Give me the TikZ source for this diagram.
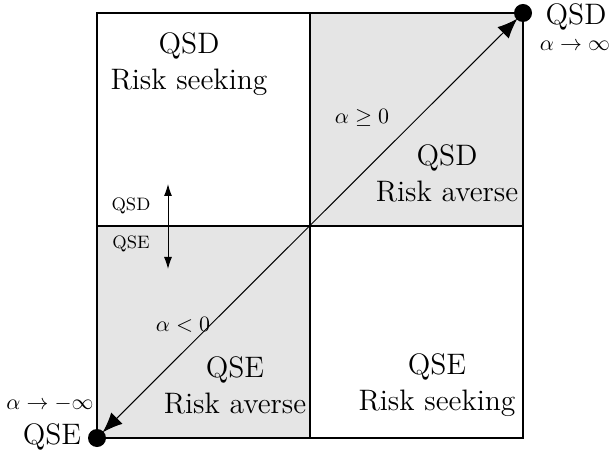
\documentclass[tikz,border=0pt]{standalone}
\usetikzlibrary{arrows.meta}
\begin{document}
\begin{tikzpicture}[x=0.5pt,y=-0.5pt,
  big/.style={font=\fontsize{14.8}{16}\selectfont, inner sep=0pt},
  mid/.style={font=\fontsize{10.5}{12}\selectfont, inner sep=0pt},
  sml/.style={font=\fontsize{9}{10}\selectfont, inner sep=0pt},
  border/.style={line width=1pt}]
\useasboundingbox (0,0) rectangle (613,458);
\coordinate (BL) at (97,438);
\coordinate (TR) at (523,13);
\coordinate (C) at (310,226);
\fill[gray!20] (C) rectangle (TR);
\fill[gray!20] (BL) rectangle (C);
\draw[border] (BL) rectangle (TR);
\draw[border] (97,226) -- (523,226);
\draw[border] (310,13) -- (310,438);
\draw[line width=0.5pt, {Latex[length=10pt,width=8pt]}-{Latex[length=10pt,width=8pt]}, shorten <=4pt, shorten >=4pt] (BL) -- (TR);
\fill (BL) circle (9);
\fill (TR) circle (9);
\node[big, align=center] (q1) at (189,64) {QSD\\[2pt]Risk seeking};
\node[big, align=center] (q2) at (447,173) {QSD\\[2pt]Risk averse};
\node[big, align=center] (q3) at (235,385) {QSE\\[2pt]Risk averse};
\node[big, align=center] (q4) at (437,385) {QSE\\[2pt]Risk seeking};
\node[mid] (ageq) at (362,118) {$\alpha \geq 0$};
\node[mid] (alt) at (183,325) {$\alpha < 0$};
\node[sml] (sqsd) at (131,206) {QSD};
\node[sml] (sqse) at (131,244) {QSE};
\coordinate (va) at (168,184);
\coordinate (vb) at (168,269);
\draw[line width=0.5pt, {Latex[length=6pt,width=4pt]}-{Latex[length=6pt,width=4pt]}] (va) -- (vb);
\node[big] (tq) at (576,17) {QSD};
\node[mid] (tinf) at (575,46) {$\alpha \to \infty$};
\node[mid] (binf) at (50,404) {$\alpha \to -\infty$};
\node[big] (bq) at (52,437) {QSE};
\end{tikzpicture}
\end{document}
